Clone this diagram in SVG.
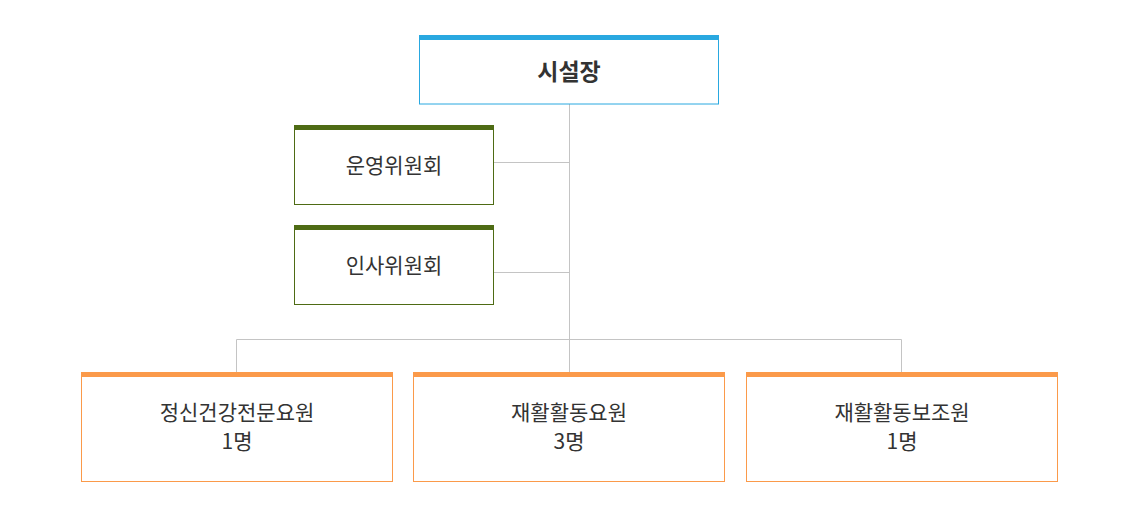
<svg xmlns="http://www.w3.org/2000/svg" width="1138" height="517" viewBox="0 0 1138 517">
<style>
text{font-family:"Noto Sans CJK KR","Noto Sans",sans-serif;fill:#333;text-anchor:middle;dominant-baseline:central}
.box{fill:#fff;stroke-width:1}
.b{stroke:#29a8e0}.g{stroke:#4e6b14}.o{stroke:#fb9a4a}
.bf{fill:#29a8e0}.gf{fill:#4e6b14}.of{fill:#fb9a4a}
.t1{font-size:23px;font-weight:bold}
.t2{font-size:21px}
.conn line{stroke:#c4c4c4;stroke-width:1}
</style>
<g class="conn" id="connectors">
<line x1="569.5" y1="104" x2="569.5" y2="372"/>
<line x1="493" y1="162.5" x2="569.5" y2="162.5"/>
<line x1="493" y1="272.5" x2="569.5" y2="272.5"/>
<line x1="236.5" y1="339.5" x2="901.5" y2="339.5"/>
<line x1="236.5" y1="339.5" x2="236.5" y2="372"/>
<line x1="901.5" y1="339.5" x2="901.5" y2="372"/>
</g>
<g id="director">
<rect class="box b" x="419.5" y="37.5" width="299" height="66.5"/>
<rect class="bf" x="419" y="35" width="300" height="5"/>
<text class="t1" x="569" y="70">시설장</text>
</g>
<g id="committee1">
<rect class="box g" x="294.5" y="127.5" width="199" height="77"/>
<rect class="gf" x="294" y="125" width="200" height="5"/>
<text class="t2" x="394" y="164">운영위원회</text>
</g>
<g id="committee2">
<rect class="box g" x="294.5" y="227.5" width="199" height="77"/>
<rect class="gf" x="294" y="225" width="200" height="5"/>
<text class="t2" x="394" y="264">인사위원회</text>
</g>
<g id="staff1">
<rect class="box o" x="81.5" y="374.5" width="311" height="107"/>
<rect class="of" x="81" y="372" width="312" height="5"/>
<text class="t2" x="237" y="411">정신건강전문요원</text>
<text class="t2" x="237" y="440">1명</text>
</g>
<g id="staff2">
<rect class="box o" x="413.5" y="374.5" width="311" height="107"/>
<rect class="of" x="413" y="372" width="312" height="5"/>
<text class="t2" x="569" y="411">재활활동요원</text>
<text class="t2" x="569" y="440">3명</text>
</g>
<g id="staff3">
<rect class="box o" x="746.5" y="374.5" width="311" height="107"/>
<rect class="of" x="746" y="372" width="312" height="5"/>
<text class="t2" x="902" y="411">재활활동보조원</text>
<text class="t2" x="902" y="440">1명</text>
</g>
</svg>
